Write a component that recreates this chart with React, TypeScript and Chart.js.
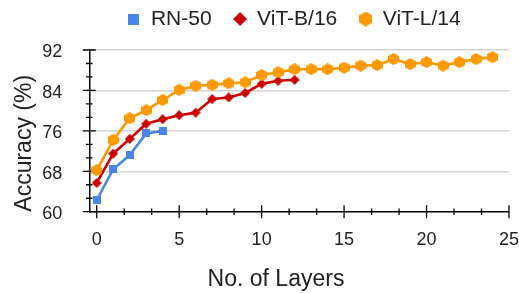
import React, { useEffect, useRef } from 'react';
import { Chart, registerables } from 'chart.js';

Chart.register(...registerables);

// ---------- data ----------
const seriesNames = ['RN-50', 'ViT-B/16', 'ViT-L/14'];
const seriesColors = ['#4a86e8', '#cc0000', '#ff9900'];

const rnLayers = [0, 1, 2, 3, 4];
const rnAcc = [62.3, 68.4, 71.2, 75.5, 76.0];

const vitBLayers = [0, 1, 2, 3, 4, 5, 6, 7, 8, 9, 10, 11, 12];
const vitBAcc = [65.7, 71.5, 74.4, 77.4, 78.3, 79.1, 79.6, 82.3, 82.6, 83.5, 85.3, 85.9, 86.1];

const vitLLayers = [0, 1, 2, 3, 4, 5, 6, 7, 8, 9, 10, 11, 12, 13, 14, 15, 16, 17, 18, 19, 20, 21, 22, 23, 24];
const vitLAcc = [68.2, 74.2, 78.5, 80.1, 82.1, 84.1, 84.9, 85.1, 85.4, 85.6, 87.05, 87.6, 88.2, 88.2, 88.2, 88.5, 88.9, 89.0, 90.2, 89.2, 89.6, 88.9, 89.6, 90.2, 90.6];

const xTickValues = [0, 5, 10, 15, 20, 25];
const yTickValues = [60, 68, 76, 84, 92];
const xMinorStep = 5 / 3;
const yMinorStep = 8 / 3;

const xTitle = 'No. of Layers';
const yTitle = 'Accuracy (%)';

const FONT = '"Liberation Sans", Arial, Helvetica, sans-serif';
const TEXT = '#222222';
const LEGEND_SHIFT_X = 34;
const LEGEND_SHIFT_Y = -10.5;

type Shape = 'square' | 'diamond' | 'hexagon';

function makeMarker(shape: Shape, w: number, h: number, color: string): HTMLCanvasElement {
  const c = document.createElement('canvas');
  c.width = w;
  c.height = h;
  const g = c.getContext('2d')!;
  g.fillStyle = color;
  g.beginPath();
  if (shape === 'square') {
    g.rect(0, 0, w, h);
  } else if (shape === 'diamond') {
    g.moveTo(w / 2, 0);
    g.lineTo(w, h / 2);
    g.lineTo(w / 2, h);
    g.lineTo(0, h / 2);
  } else {
    g.moveTo(w / 2, 0);
    g.lineTo(w, h / 4);
    g.lineTo(w, (3 * h) / 4);
    g.lineTo(w / 2, h);
    g.lineTo(0, (3 * h) / 4);
    g.lineTo(0, h / 4);
  }
  g.closePath();
  g.fill();
  return c;
}

export default function App() {
  const canvasRef = useRef<HTMLCanvasElement | null>(null);

  useEffect(() => {
    if (!canvasRef.current) return;

    const dataMarkers = [
      makeMarker('square', 8, 8, seriesColors[0]),
      makeMarker('diamond', 10, 10, seriesColors[1]),
      makeMarker('hexagon', 11, 12, seriesColors[2]),
    ];
    const legendMarkers = [
      makeMarker('square', 11, 11, seriesColors[0]),
      makeMarker('diamond', 14, 14, seriesColors[1]),
      makeMarker('hexagon', 13, 15, seriesColors[2]),
    ];

    const layersList = [rnLayers, vitBLayers, vitLLayers];
    const accList = [rnAcc, vitBAcc, vitLAcc];

    const datasets = seriesNames.map((name, i) => ({
      label: name,
      data: layersList[i].map((x, j) => ({ x, y: accList[i][j] })),
      borderColor: seriesColors[i],
      backgroundColor: seriesColors[i],
      borderWidth: 2.6,
      pointStyle: dataMarkers[i],
      pointRadius: 5,
      tension: 0,
      order: 3 - i,
    }));

    const decor = {
      id: 'decor',
      afterLayout(chart: any) {
        const lg = chart.legend;
        if (lg) {
          lg.left += LEGEND_SHIFT_X;
          lg.right += LEGEND_SHIFT_X;
          lg.top += LEGEND_SHIFT_Y;
          lg.bottom += LEGEND_SHIFT_Y;
        }
      },
      beforeDatasetsDraw(chart: any) {
        const ctx = chart.ctx;
        const xs = chart.scales.x;
        const ys = chart.scales.y;
        const { left, bottom } = chart.chartArea;
        ctx.save();
        ctx.strokeStyle = '#000';
        ctx.lineWidth = 1.3;
        ctx.beginPath();
        xTickValues.forEach((v) => {
          const px = xs.getPixelForValue(v);
          ctx.moveTo(px, bottom - 6.5);
          ctx.lineTo(px, bottom + 6.5);
        });
        for (let k = 1; k * xMinorStep < xs.max; k++) {
          if (k % 3 === 0) continue;
          const px = xs.getPixelForValue(k * xMinorStep);
          ctx.moveTo(px, bottom - 3.3);
          ctx.lineTo(px, bottom + 3.3);
        }
        yTickValues.forEach((v) => {
          const py = ys.getPixelForValue(v);
          ctx.moveTo(left - 6.5, py);
          ctx.lineTo(left + 6.5, py);
        });
        for (let k = 1; ys.min + k * yMinorStep < ys.max; k++) {
          if (k % 3 === 0) continue;
          const py = ys.getPixelForValue(ys.min + k * yMinorStep);
          ctx.moveTo(left - 3.3, py);
          ctx.lineTo(left + 3.3, py);
        }
        ctx.stroke();
        ctx.restore();
      },
      afterDraw(chart: any) {
        const ctx = chart.ctx;
        ctx.save();
        ctx.font = `23px ${FONT}`;
        ctx.fillStyle = TEXT;
        ctx.textAlign = 'center';
        ctx.textBaseline = 'middle';
        ctx.fillText(xTitle, 276, 279.5);
        ctx.restore();
      },
    };

    const chart = new Chart(canvasRef.current, {
      type: 'line',
      data: { datasets: datasets as any },
      options: {
        animation: false,
        responsive: false,
        layout: { padding: { top: -3, left: 0, right: -1, bottom: 0 } },
        font: { family: FONT },
        plugins: {
          tooltip: { enabled: false },
          legend: {
            position: 'top',
            labels: {
              usePointStyle: true,
              boxWidth: 13,
              boxHeight: 13,
              padding: 22,
              color: TEXT,
              font: { family: FONT, size: 21 },
              generateLabels: () =>
                seriesNames.map((name, i) => ({
                  text: name,
                  fillStyle: seriesColors[i],
                  strokeStyle: seriesColors[i],
                  lineWidth: 0,
                  pointStyle: legendMarkers[i],
                  datasetIndex: i,
                  hidden: false,
                  fontColor: TEXT,
                })) as any,
            },
          },
        },
        scales: {
          x: {
            type: 'linear',
            min: -0.45,
            max: 25,
            afterBuildTicks: (s: any) => {
              s.ticks = xTickValues.map((v) => ({ value: v }));
            },
            afterFit: (s: any) => {
              s.height = 81.3;
            },
            ticks: {
              color: TEXT,
              font: { family: FONT, size: 18 },
              padding: 0,
              maxRotation: 0,
              autoSkip: false,
            },
            grid: { display: true, drawOnChartArea: false, drawTicks: true, tickLength: 17.5, tickColor: 'rgba(0,0,0,0)', color: 'rgba(0,0,0,0)' },
            border: { display: true, color: '#000', width: 1.5 },
          },
          y: {
            type: 'linear',
            min: 60,
            max: 92,
            afterBuildTicks: (s: any) => {
              s.ticks = yTickValues.map((v) => ({ value: v }));
            },
            afterFit: (s: any) => {
              s.width = 89.3;
            },
            ticks: {
              color: TEXT,
              font: { family: FONT, size: 18 },
              padding: 0,
              labelOffset: 2.5,
            },
            grid: {
              drawTicks: true,
              tickLength: 27,
              tickColor: 'rgba(0,0,0,0)',
              lineWidth: 1.5,
              color: (c: any) => (c.tick && c.tick.value === 60 ? 'rgba(0,0,0,0)' : '#d4d4d4'),
            },
            border: { display: true, color: '#000', width: 1.5 },
            title: {
              display: true,
              text: yTitle,
              align: 'start',
              color: TEXT,
              font: { family: FONT, size: 23 },
              padding: { top: 11, bottom: 0 },
            },
          },
        },
      },
      plugins: [decor],
    });

    return () => chart.destroy();
  }, []);

  return (
    <div style={{ position: 'absolute', left: 0, top: 0, width: 519, height: 293, background: '#fff' }}>
      <canvas ref={canvasRef} width={519} height={293} style={{ display: 'block' }} />
    </div>
  );
}
